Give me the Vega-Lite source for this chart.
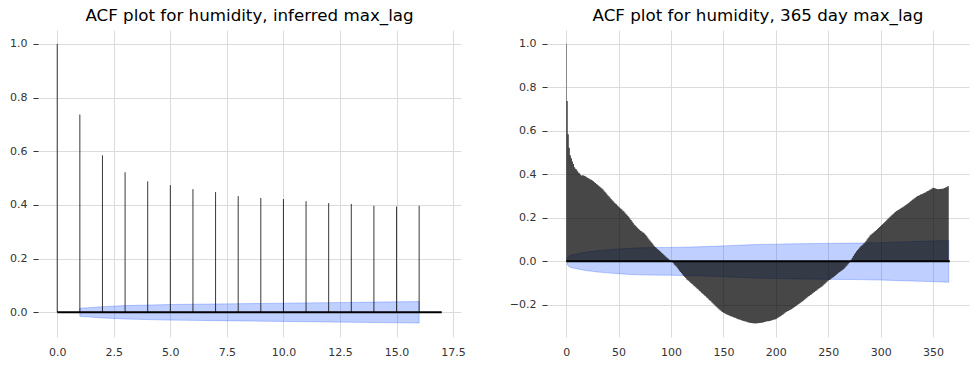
{
"$schema": "https://vega.github.io/schema/vega-lite/v6.json",
"background": "white",
"padding": {"left": 0, "top": 8, "right": 5, "bottom": 5},
"config": {
  "view": {"stroke": null},
  "font": "DejaVu Sans",
  "title": {"font": "DejaVu Sans", "fontSize": 16.7, "fontWeight": "normal", "color": "#000000", "offset": 5, "anchor": "middle"},
  "axis": {"labelFont": "DejaVu Sans", "labelFontSize": 11, "labelColor": "#333333", "domain": false, "gridColor": "#dcdcdc", "gridWidth": 1, "title": null},
  "axisY": {"ticks": true, "tickSize": 5, "tickColor": "#333333", "tickWidth": 1, "labelPadding": 6, "minExtent": 38, "maxExtent": 38, "format": ".1f"},
  "axisX": {"ticks": false, "labelPadding": 9}
},
"datasets": {
"acf": [
{"lag":0,"acf":1.0},{"lag":1,"acf":0.737},{"lag":2,"acf":0.585},{"lag":3,"acf":0.522},{"lag":4,"acf":0.488},{"lag":5,"acf":0.474},{"lag":6,"acf":0.459},{"lag":7,"acf":0.448},{"lag":8,"acf":0.433},{"lag":9,"acf":0.426},
{"lag":10,"acf":0.422},{"lag":11,"acf":0.414},{"lag":12,"acf":0.407},{"lag":13,"acf":0.404},{"lag":14,"acf":0.397},{"lag":15,"acf":0.394},{"lag":16,"acf":0.397},{"lag":17,"acf":0.394},{"lag":18,"acf":0.392},{"lag":19,"acf":0.389},
{"lag":20,"acf":0.386},{"lag":21,"acf":0.383},{"lag":22,"acf":0.380},{"lag":23,"acf":0.378},{"lag":24,"acf":0.375},{"lag":25,"acf":0.372},{"lag":26,"acf":0.368},{"lag":27,"acf":0.364},{"lag":28,"acf":0.360},{"lag":29,"acf":0.356},
{"lag":30,"acf":0.352},{"lag":31,"acf":0.348},{"lag":32,"acf":0.344},{"lag":33,"acf":0.340},{"lag":34,"acf":0.336},{"lag":35,"acf":0.332},{"lag":36,"acf":0.326},{"lag":37,"acf":0.320},{"lag":38,"acf":0.315},{"lag":39,"acf":0.309},
{"lag":40,"acf":0.303},{"lag":41,"acf":0.298},{"lag":42,"acf":0.292},{"lag":43,"acf":0.287},{"lag":44,"acf":0.281},{"lag":45,"acf":0.276},{"lag":46,"acf":0.271},{"lag":47,"acf":0.266},{"lag":48,"acf":0.262},{"lag":49,"acf":0.257},
{"lag":50,"acf":0.252},{"lag":51,"acf":0.248},{"lag":52,"acf":0.243},{"lag":53,"acf":0.239},{"lag":54,"acf":0.234},{"lag":55,"acf":0.230},{"lag":56,"acf":0.225},{"lag":57,"acf":0.219},{"lag":58,"acf":0.214},{"lag":59,"acf":0.208},
{"lag":60,"acf":0.203},{"lag":61,"acf":0.196},{"lag":62,"acf":0.190},{"lag":63,"acf":0.183},{"lag":64,"acf":0.176},{"lag":65,"acf":0.170},{"lag":66,"acf":0.165},{"lag":67,"acf":0.160},{"lag":68,"acf":0.155},{"lag":69,"acf":0.150},
{"lag":70,"acf":0.145},{"lag":71,"acf":0.141},{"lag":72,"acf":0.138},{"lag":73,"acf":0.134},{"lag":74,"acf":0.131},{"lag":75,"acf":0.127},{"lag":76,"acf":0.121},{"lag":77,"acf":0.115},{"lag":78,"acf":0.108},{"lag":79,"acf":0.102},
{"lag":80,"acf":0.096},{"lag":81,"acf":0.090},{"lag":82,"acf":0.084},{"lag":83,"acf":0.078},{"lag":84,"acf":0.072},{"lag":85,"acf":0.066},{"lag":86,"acf":0.062},{"lag":87,"acf":0.057},{"lag":88,"acf":0.053},{"lag":89,"acf":0.049},
{"lag":90,"acf":0.045},{"lag":91,"acf":0.040},{"lag":92,"acf":0.036},{"lag":93,"acf":0.031},{"lag":94,"acf":0.027},{"lag":95,"acf":0.022},{"lag":96,"acf":0.018},{"lag":97,"acf":0.014},{"lag":98,"acf":0.010},{"lag":99,"acf":0.006},
{"lag":100,"acf":0.002},{"lag":101,"acf":-0.003},{"lag":102,"acf":-0.008},{"lag":103,"acf":-0.014},{"lag":104,"acf":-0.019},{"lag":105,"acf":-0.024},{"lag":106,"acf":-0.030},{"lag":107,"acf":-0.036},{"lag":108,"acf":-0.043},{"lag":109,"acf":-0.049},
{"lag":110,"acf":-0.055},{"lag":111,"acf":-0.061},{"lag":112,"acf":-0.066},{"lag":113,"acf":-0.072},{"lag":114,"acf":-0.077},{"lag":115,"acf":-0.083},{"lag":116,"acf":-0.087},{"lag":117,"acf":-0.091},{"lag":118,"acf":-0.096},{"lag":119,"acf":-0.100},
{"lag":120,"acf":-0.104},{"lag":121,"acf":-0.108},{"lag":122,"acf":-0.113},{"lag":123,"acf":-0.117},{"lag":124,"acf":-0.122},{"lag":125,"acf":-0.126},{"lag":126,"acf":-0.130},{"lag":127,"acf":-0.135},{"lag":128,"acf":-0.139},{"lag":129,"acf":-0.144},
{"lag":130,"acf":-0.148},{"lag":131,"acf":-0.152},{"lag":132,"acf":-0.157},{"lag":133,"acf":-0.161},{"lag":134,"acf":-0.166},{"lag":135,"acf":-0.170},{"lag":136,"acf":-0.175},{"lag":137,"acf":-0.180},{"lag":138,"acf":-0.184},{"lag":139,"acf":-0.189},
{"lag":140,"acf":-0.194},{"lag":141,"acf":-0.199},{"lag":142,"acf":-0.203},{"lag":143,"acf":-0.208},{"lag":144,"acf":-0.212},{"lag":145,"acf":-0.217},{"lag":146,"acf":-0.221},{"lag":147,"acf":-0.225},{"lag":148,"acf":-0.229},{"lag":149,"acf":-0.233},
{"lag":150,"acf":-0.237},{"lag":151,"acf":-0.239},{"lag":152,"acf":-0.241},{"lag":153,"acf":-0.244},{"lag":154,"acf":-0.246},{"lag":155,"acf":-0.248},{"lag":156,"acf":-0.250},{"lag":157,"acf":-0.252},{"lag":158,"acf":-0.254},{"lag":159,"acf":-0.256},
{"lag":160,"acf":-0.258},{"lag":161,"acf":-0.260},{"lag":162,"acf":-0.262},{"lag":163,"acf":-0.264},{"lag":164,"acf":-0.266},{"lag":165,"acf":-0.268},{"lag":166,"acf":-0.269},{"lag":167,"acf":-0.271},{"lag":168,"acf":-0.272},{"lag":169,"acf":-0.274},
{"lag":170,"acf":-0.275},{"lag":171,"acf":-0.277},{"lag":172,"acf":-0.278},{"lag":173,"acf":-0.280},{"lag":174,"acf":-0.281},{"lag":175,"acf":-0.283},{"lag":176,"acf":-0.284},{"lag":177,"acf":-0.284},{"lag":178,"acf":-0.285},{"lag":179,"acf":-0.285},
{"lag":180,"acf":-0.286},{"lag":181,"acf":-0.286},{"lag":182,"acf":-0.285},{"lag":183,"acf":-0.285},{"lag":184,"acf":-0.284},{"lag":185,"acf":-0.284},{"lag":186,"acf":-0.283},{"lag":187,"acf":-0.282},{"lag":188,"acf":-0.281},{"lag":189,"acf":-0.279},
{"lag":190,"acf":-0.278},{"lag":191,"acf":-0.277},{"lag":192,"acf":-0.276},{"lag":193,"acf":-0.275},{"lag":194,"acf":-0.274},{"lag":195,"acf":-0.273},{"lag":196,"acf":-0.272},{"lag":197,"acf":-0.270},{"lag":198,"acf":-0.269},{"lag":199,"acf":-0.267},
{"lag":200,"acf":-0.266},{"lag":201,"acf":-0.263},{"lag":202,"acf":-0.260},{"lag":203,"acf":-0.257},{"lag":204,"acf":-0.254},{"lag":205,"acf":-0.251},{"lag":206,"acf":-0.247},{"lag":207,"acf":-0.244},{"lag":208,"acf":-0.240},{"lag":209,"acf":-0.237},
{"lag":210,"acf":-0.233},{"lag":211,"acf":-0.230},{"lag":212,"acf":-0.228},{"lag":213,"acf":-0.225},{"lag":214,"acf":-0.223},{"lag":215,"acf":-0.220},{"lag":216,"acf":-0.217},{"lag":217,"acf":-0.213},{"lag":218,"acf":-0.210},{"lag":219,"acf":-0.206},
{"lag":220,"acf":-0.203},{"lag":221,"acf":-0.200},{"lag":222,"acf":-0.196},{"lag":223,"acf":-0.193},{"lag":224,"acf":-0.189},{"lag":225,"acf":-0.186},{"lag":226,"acf":-0.182},{"lag":227,"acf":-0.178},{"lag":228,"acf":-0.174},{"lag":229,"acf":-0.170},
{"lag":230,"acf":-0.166},{"lag":231,"acf":-0.162},{"lag":232,"acf":-0.159},{"lag":233,"acf":-0.155},{"lag":234,"acf":-0.152},{"lag":235,"acf":-0.148},{"lag":236,"acf":-0.144},{"lag":237,"acf":-0.141},{"lag":238,"acf":-0.137},{"lag":239,"acf":-0.134},
{"lag":240,"acf":-0.130},{"lag":241,"acf":-0.126},{"lag":242,"acf":-0.123},{"lag":243,"acf":-0.119},{"lag":244,"acf":-0.116},{"lag":245,"acf":-0.112},{"lag":246,"acf":-0.107},{"lag":247,"acf":-0.103},{"lag":248,"acf":-0.098},{"lag":249,"acf":-0.094},
{"lag":250,"acf":-0.089},{"lag":251,"acf":-0.086},{"lag":252,"acf":-0.083},{"lag":253,"acf":-0.079},{"lag":254,"acf":-0.076},{"lag":255,"acf":-0.073},{"lag":256,"acf":-0.069},{"lag":257,"acf":-0.065},{"lag":258,"acf":-0.061},{"lag":259,"acf":-0.057},
{"lag":260,"acf":-0.053},{"lag":261,"acf":-0.049},{"lag":262,"acf":-0.046},{"lag":263,"acf":-0.042},{"lag":264,"acf":-0.039},{"lag":265,"acf":-0.035},{"lag":266,"acf":-0.030},{"lag":267,"acf":-0.024},{"lag":268,"acf":-0.019},{"lag":269,"acf":-0.013},
{"lag":270,"acf":-0.008},{"lag":271,"acf":0.000},{"lag":272,"acf":0.008},{"lag":273,"acf":0.017},{"lag":274,"acf":0.025},{"lag":275,"acf":0.033},{"lag":276,"acf":0.039},{"lag":277,"acf":0.046},{"lag":278,"acf":0.052},{"lag":279,"acf":0.058},
{"lag":280,"acf":0.064},{"lag":281,"acf":0.069},{"lag":282,"acf":0.073},{"lag":283,"acf":0.078},{"lag":284,"acf":0.082},{"lag":285,"acf":0.087},{"lag":286,"acf":0.094},{"lag":287,"acf":0.100},{"lag":288,"acf":0.107},{"lag":289,"acf":0.113},
{"lag":290,"acf":0.120},{"lag":291,"acf":0.124},{"lag":292,"acf":0.128},{"lag":293,"acf":0.132},{"lag":294,"acf":0.136},{"lag":295,"acf":0.140},{"lag":296,"acf":0.144},{"lag":297,"acf":0.149},{"lag":298,"acf":0.153},{"lag":299,"acf":0.158},
{"lag":300,"acf":0.162},{"lag":301,"acf":0.167},{"lag":302,"acf":0.172},{"lag":303,"acf":0.176},{"lag":304,"acf":0.181},{"lag":305,"acf":0.186},{"lag":306,"acf":0.191},{"lag":307,"acf":0.196},{"lag":308,"acf":0.200},{"lag":309,"acf":0.205},
{"lag":310,"acf":0.210},{"lag":311,"acf":0.214},{"lag":312,"acf":0.218},{"lag":313,"acf":0.223},{"lag":314,"acf":0.227},{"lag":315,"acf":0.231},{"lag":316,"acf":0.234},{"lag":317,"acf":0.237},{"lag":318,"acf":0.240},{"lag":319,"acf":0.243},
{"lag":320,"acf":0.246},{"lag":321,"acf":0.249},{"lag":322,"acf":0.252},{"lag":323,"acf":0.256},{"lag":324,"acf":0.259},{"lag":325,"acf":0.262},{"lag":326,"acf":0.266},{"lag":327,"acf":0.270},{"lag":328,"acf":0.274},{"lag":329,"acf":0.278},
{"lag":330,"acf":0.282},{"lag":331,"acf":0.286},{"lag":332,"acf":0.289},{"lag":333,"acf":0.293},{"lag":334,"acf":0.296},{"lag":335,"acf":0.300},{"lag":336,"acf":0.302},{"lag":337,"acf":0.304},{"lag":338,"acf":0.307},{"lag":339,"acf":0.309},
{"lag":340,"acf":0.311},{"lag":341,"acf":0.313},{"lag":342,"acf":0.316},{"lag":343,"acf":0.318},{"lag":344,"acf":0.321},{"lag":345,"acf":0.323},{"lag":346,"acf":0.326},{"lag":347,"acf":0.329},{"lag":348,"acf":0.332},{"lag":349,"acf":0.335},
{"lag":350,"acf":0.338},{"lag":351,"acf":0.337},{"lag":352,"acf":0.336},{"lag":353,"acf":0.334},{"lag":354,"acf":0.333},{"lag":355,"acf":0.332},{"lag":356,"acf":0.333},{"lag":357,"acf":0.333},{"lag":358,"acf":0.334},{"lag":359,"acf":0.334},
{"lag":360,"acf":0.335},{"lag":361,"acf":0.337},{"lag":362,"acf":0.340},{"lag":363,"acf":0.342},{"lag":364,"acf":0.345},{"lag":365,"acf":0.347}
],
"band": [
{"lag":1,"lo":-0.015,"hi":0.015},{"lag":2,"lo":-0.021,"hi":0.021},{"lag":3,"lo":-0.025,"hi":0.025},{"lag":4,"lo":-0.027,"hi":0.027},{"lag":5,"lo":-0.029,"hi":0.029},
{"lag":6,"lo":-0.030,"hi":0.030},{"lag":7,"lo":-0.031,"hi":0.031},{"lag":8,"lo":-0.032,"hi":0.032},{"lag":9,"lo":-0.033,"hi":0.033},{"lag":10,"lo":-0.034,"hi":0.034},
{"lag":11,"lo":-0.035,"hi":0.035},{"lag":12,"lo":-0.036,"hi":0.036},{"lag":13,"lo":-0.037,"hi":0.037},{"lag":14,"lo":-0.038,"hi":0.038},{"lag":15,"lo":-0.039,"hi":0.039},
{"lag":16,"lo":-0.040,"hi":0.040},{"lag":20,"lo":-0.043,"hi":0.043},{"lag":25,"lo":-0.046,"hi":0.046},{"lag":30,"lo":-0.049,"hi":0.049},{"lag":40,"lo":-0.053,"hi":0.053},
{"lag":50,"lo":-0.057,"hi":0.057},{"lag":60,"lo":-0.060,"hi":0.060},{"lag":70,"lo":-0.062,"hi":0.062},{"lag":80,"lo":-0.063,"hi":0.063},{"lag":100,"lo":-0.064,"hi":0.064},
{"lag":120,"lo":-0.066,"hi":0.066},{"lag":140,"lo":-0.069,"hi":0.069},{"lag":160,"lo":-0.073,"hi":0.073},{"lag":180,"lo":-0.077,"hi":0.077},{"lag":200,"lo":-0.079,"hi":0.079},
{"lag":220,"lo":-0.081,"hi":0.081},{"lag":240,"lo":-0.082,"hi":0.082},{"lag":260,"lo":-0.083,"hi":0.083},{"lag":280,"lo":-0.084,"hi":0.084},{"lag":300,"lo":-0.086,"hi":0.086},
{"lag":320,"lo":-0.089,"hi":0.089},{"lag":340,"lo":-0.092,"hi":0.092},{"lag":365,"lo":-0.096,"hi":0.096}
]
},
"hconcat": [
{
  "width": 423, "height": 307,
  "title": "ACF plot for humidity, inferred max_lag",
  "layer": [
    {"data": {"name": "band"}, "transform": [{"filter": "datum.lag <= 16"}],
     "mark": {"type": "area", "fill": "#0040ff", "fillOpacity": 0.25, "stroke": "#0040ff", "strokeOpacity": 0.25, "strokeWidth": 1},
     "encoding": {
       "x": {"field": "lag", "type": "quantitative", "scale": {"domain": [-0.85, 17.85], "nice": false, "zero": false, "padding": 0}, "axis": {"values": [0, 2.5, 5, 7.5, 10, 12.5, 15, 17.5], "format": ".1f"}},
       "y": {"field": "hi", "type": "quantitative", "scale": {"domain": [-0.092, 1.052], "nice": false, "zero": false}, "axis": {"values": [0, 0.2, 0.4, 0.6, 0.8, 1.0]}},
       "y2": {"field": "lo"}
     }},
    {"data": {"name": "acf"}, "transform": [{"filter": "datum.lag <= 16"}],
     "mark": {"type": "rule", "color": "#000000", "strokeOpacity": 0.78, "strokeWidth": 1},
     "encoding": {
       "x": {"field": "lag", "type": "quantitative"},
       "y": {"field": "acf", "type": "quantitative"},
       "y2": {"datum": 0}
     }},
    {"data": {"values": [{}]},
     "mark": {"type": "rule", "color": "#000000", "strokeWidth": 2},
     "encoding": {
       "x": {"datum": 0, "type": "quantitative"},
       "x2": {"datum": 17},
       "y": {"datum": 0, "type": "quantitative"}
     }}
  ]
},
{
  "width": 422, "height": 307,
  "title": "ACF plot for humidity, 365 day max_lag",
  "layer": [
    {"data": {"name": "band"},
     "mark": {"type": "area", "fill": "#0040ff", "fillOpacity": 0.25, "stroke": "#0040ff", "strokeOpacity": 0.25, "strokeWidth": 1},
     "encoding": {
       "x": {"field": "lag", "type": "quantitative", "scale": {"domain": [-18.3, 384.3], "nice": false, "zero": false, "padding": 0}, "axis": {"values": [0, 50, 100, 150, 200, 250, 300, 350], "format": "d"}},
       "y": {"field": "hi", "type": "quantitative", "scale": {"domain": [-0.348, 1.064], "nice": false, "zero": false}, "axis": {"values": [-0.2, 0, 0.2, 0.4, 0.6, 0.8, 1.0]}},
       "y2": {"field": "lo"}
     }},
    {"data": {"name": "acf"},
     "mark": {"type": "area", "interpolate": "step", "color": "#000000", "opacity": 0.72},
     "encoding": {
       "x": {"field": "lag", "type": "quantitative"},
       "y": {"field": "acf", "type": "quantitative"},
       "y2": {"datum": 0}
     }},
    {"data": {"values": [{}]},
     "mark": {"type": "rule", "color": "#000000", "strokeWidth": 2},
     "encoding": {
       "x": {"datum": 0, "type": "quantitative"},
       "x2": {"datum": 366},
       "y": {"datum": 0, "type": "quantitative"}
     }}
  ]
}
],
"spacing": 86,
"bounds": "flush"
}
